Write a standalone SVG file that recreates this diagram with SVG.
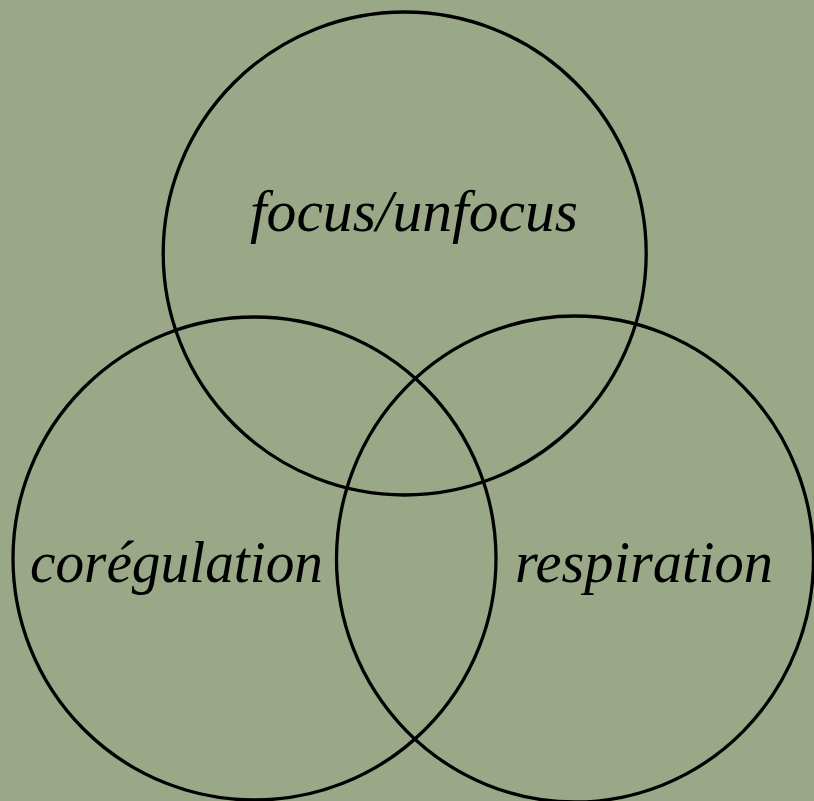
<svg xmlns="http://www.w3.org/2000/svg" width="814" height="801" viewBox="0 0 814 801">
<style>
.c{fill:none;stroke:#000;stroke-width:3.3}
.t{font-family:"Liberation Serif","DejaVu Serif",serif;font-style:italic;font-size:60px;fill:#000}
</style>
<rect width="814" height="801" fill="#9ba888"/>
<g id="node-focus"><circle class="c" cx="404.7" cy="253.5" r="241.5"/><text class="t" x="250" y="231" textLength="328" lengthAdjust="spacingAndGlyphs">focus/unfocus</text></g>
<g id="node-coregulation"><circle class="c" cx="254.5" cy="558.5" r="241.5"/><text class="t" x="30" y="582" textLength="293" lengthAdjust="spacingAndGlyphs">corégulation</text></g>
<g id="node-respiration"><ellipse class="c" cx="575" cy="559" rx="238.5" ry="243"/><text class="t" x="515" y="582" textLength="258" lengthAdjust="spacingAndGlyphs">respiration</text></g>
<g id="connectors"/>
</svg>
